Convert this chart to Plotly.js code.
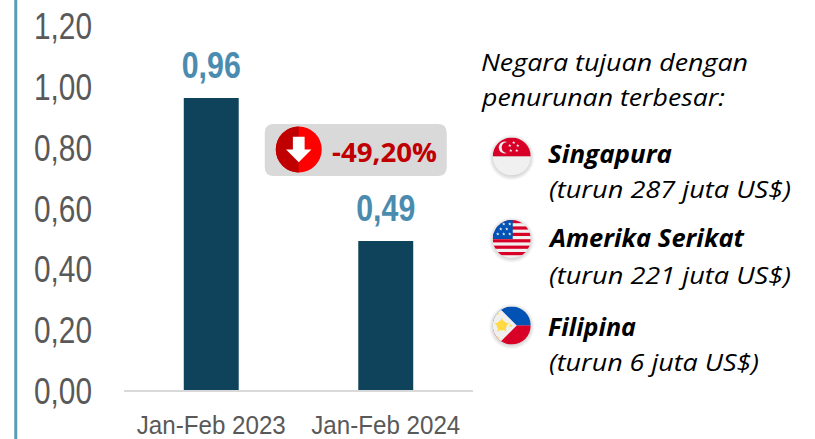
<!DOCTYPE html>
<html><head><meta charset="utf-8">
<script src="https://cdn.plot.ly/plotly-3.0.1.min.js"></script>
<style>html,body{margin:0;padding:0;background:#fff;overflow:hidden}</style></head>
<body><div id="c" style="width:815px;height:439px"></div>
<script>
const categories = ['Jan-Feb 2023', 'Jan-Feb 2024'];
const values = [0.96, 0.49];
const tickValues = [0, 0.2, 0.4, 0.6, 0.8, 1.0, 1.2];
const tickLabels = ['0,00', '0,20', '0,40', '0,60', '0,80', '1,00', '1,20'];
const barLabels = ['0,96', '0,49'];
const changeLabel = '-49,20%';
const legendTitle = ['Negara tujuan dengan', 'penurunan terbesar:'];
const countries = ['Singapura', 'Amerika Serikat', 'Filipina'];
const details = ['(turun 287 juta US$)', '(turun 221 juta US$)', '(turun 6 juta US$)'];

const L = 124.25, R = 473.25, T = 25, B = 390, W = 815, H = 439;
const px = x => (x - L) / (R - L);
const py = y => (B - y) / (B - T);
const svg = s => 'data:image/svg+xml;utf8,' + encodeURIComponent(s);
const wrap = (id, inner) => `<svg xmlns="http://www.w3.org/2000/svg" width="56" height="56" viewBox="0 0 56 56"><defs><clipPath id="${id}"><circle cx="28" cy="28" r="19"/></clipPath><radialGradient id="s"><stop offset="0.72" stop-color="#000" stop-opacity="0.22"/><stop offset="1" stop-color="#000" stop-opacity="0"/></radialGradient></defs><circle cx="28" cy="29" r="23" fill="url(#s)"/><g clip-path="url(#${id})">${inner}</g></svg>`;
const star = (x, y, r, c) => { let p = []; for (let i = 0; i < 10; i++) { const a = -Math.PI / 2 + i * Math.PI / 5, q = i % 2 ? r * 0.42 : r; p.push((x + q * Math.cos(a)).toFixed(2) + ',' + (y + q * Math.sin(a)).toFixed(2)); } return `<polygon points="${p.join(' ')}" fill="${c}"/>`; };

const sg = wrap('a', `<rect x="9" y="9" width="38" height="19" fill="#d80027"/><rect x="9" y="28" width="38" height="19" fill="#f0f0f0"/><circle cx="21" cy="19" r="6" fill="#f0f0f0"/><circle cx="23.5" cy="19" r="5.6" fill="#d80027"/>` + [[30,14],[34,17],[33,22],[27,22],[26,17]].map(s => star(s[0], s[1], 1.8, '#f0f0f0')).join(''));
let st = ''; for (let i = 0; i < 6; i++) st += `<rect x="9" y="${9 + i * 6.4}" width="38" height="3.2" fill="#d80027"/>`;
let us_st = ''; [[14,13],[20,13],[26,13],[17,18],[23,18],[14,23],[20,23],[26,23]].forEach(s => us_st += star(s[0], s[1], 1.8, '#f0f0f0'));
const us = wrap('b', `<rect x="9" y="9" width="38" height="38" fill="#f0f0f0"/>${st}<rect x="9" y="9" width="20" height="19" fill="#0052b4"/>${us_st}`);
const ph = wrap('c', `<rect x="9" y="9" width="38" height="19" fill="#0052b4"/><rect x="9" y="28" width="38" height="19" fill="#d80027"/><polygon points="9,9 14,9 33,28 14,47 9,47" fill="#f0f0f0"/><circle cx="18" cy="28" r="5" fill="#ffda44"/>` + star(18, 28, 8, '#ffda44') + star(14, 16, 1.8, '#ffda44') + star(14, 40, 1.8, '#ffda44') + star(27, 28, 1.8, '#ffda44'));
const arrow = `<svg xmlns="http://www.w3.org/2000/svg" width="48" height="48" viewBox="0 0 48 48"><circle cx="24" cy="24" r="23.5" fill="#ff0000"/><path d="M24 .5 A23.5 23.5 0 0 0 24 47.5 Z" fill="#c00000"/><polygon points="18,11 30,11 30,24 37,24 24,37 11,24 18,24" fill="#fff"/></svg>`;

const img = (src, cx, cy, size) => ({ source: svg(src), xref: 'paper', yref: 'paper', x: px(cx - size / 2), y: py(cy - size / 2), sizex: size / (R - L), sizey: size / (B - T), xanchor: 'left', yanchor: 'top', sizing: 'stretch', layer: 'above' });
const note = (text, x, y, font) => ({ text, xref: 'paper', yref: 'paper', x: px(x), y: py(y), xanchor: 'left', yanchor: 'middle', showarrow: false, font, align: 'left' });

const ital = { family: '"Open Sans", sans-serif', size: 24.5, color: '#000' };
const annotations = [
  note('<i>' + legendTitle[0] + '</i>', 479, 61, ital),
  note('<i>' + legendTitle[1] + '</i>', 479, 97, ital),
  note('<b>' + changeLabel + '</b>', 330, 152, { family: '"Open Sans", sans-serif', size: 26, color: '#c00000' })
];
const rows = [[153, 188], [238, 274], [326, 361]];
countries.forEach((c, i) => {
  annotations.push(note('<b><i>' + c + '</i></b>', 546, rows[i][0], ital));
  annotations.push(note('<i>' + details[i] + '</i>', 547, rows[i][1], ital));
});

const layout = {
  width: W, height: H, margin: { l: L, r: W - R, t: T, b: H - B },
  paper_bgcolor: '#fff', plot_bgcolor: '#fff', showlegend: false, bargap: 0.685,
  font: { family: '"Liberation Sans", sans-serif', color: '#595959' },
  xaxis: { type: 'category', tickangle: 0, showgrid: false, zeroline: false, showline: true, linecolor: '#d9d9d9', linewidth: 2, ticks: '', ticklabelstandoff: 10, tickfont: { size: 26.5, color: '#595959' } },
  yaxis: { range: [0, 1.2], tickvals: tickValues, ticktext: tickLabels, showgrid: false, zeroline: false, showline: false, ticks: '', ticklabelstandoff: 31, tickfont: { size: 36, color: '#595959' } },
  shapes: [
    { type: 'rect', xref: 'paper', yref: 'paper', x0: px(14.5), x1: px(17.5), y0: py(-5), y1: py(445), fillcolor: '#5b9bb8', line: { width: 0 }, layer: 'above' },
    { type: 'path', xref: 'paper', yref: 'paper', layer: 'below', fillcolor: '#d9d9d9', line: { width: 0 },
      path: (() => { const x0 = px(265), x1 = px(447), y0 = py(124), y1 = py(176), rx = 9 / (R - L), ry = 9 / (B - T);
        return `M${x0 + rx},${y0} L${x1 - rx},${y0} Q${x1},${y0} ${x1},${y0 - ry} L${x1},${y1 + ry} Q${x1},${y1} ${x1 - rx},${y1} L${x0 + rx},${y1} Q${x0},${y1} ${x0},${y1 + ry} L${x0},${y0 - ry} Q${x0},${y0} ${x0 + rx},${y0} Z`; })() }
  ],
  images: [img(arrow, 299, 149.5, 47), img(sg, 512, 156.5, 56), img(us, 512, 239, 56), img(ph, 512, 325.5, 56)],
  annotations
};
const fit = (el, w) => { el.setAttribute('textLength', w); el.setAttribute('lengthAdjust', 'spacingAndGlyphs'); };
Plotly.newPlot('c', [{
  type: 'bar', x: categories, y: values, marker: { color: '#0f435b' },
  text: barLabels, textposition: 'outside', cliponaxis: false, constraintext: 'none', hoverinfo: 'skip',
  textfont: { size: 36, color: '#4a8caf', family: '"Liberation Sans", sans-serif', weight: 700 }
}], layout, { displayModeBar: false, staticPlot: true }).then(gd => {
  gd.querySelectorAll('.ytick text').forEach(t => { fit(t, 58); t.setAttribute('dy', 1.5); });
  gd.querySelectorAll('.xtick text').forEach(t => fit(t, 149));
  gd.querySelectorAll('.bartext text, text.bartext').forEach(t => { fit(t, 59); t.setAttribute('dy', -9); });
  gd.querySelectorAll('.annotation-text').forEach(t => {
    const s = t.textContent;
    if (s === changeLabel) fit(t, 105);
    if (s === legendTitle[0]) fit(t, 267);
    if (s === legendTitle[1]) fit(t, 243);
    if (s === details[0] || s === details[1]) fit(t, 242);
    if (s === details[2]) fit(t, 210);
    if (s === countries[0]) fit(t, 124);
    if (s === countries[1]) fit(t, 194);
    if (s === countries[2]) fit(t, 88);
  });
});
</script></body></html>
